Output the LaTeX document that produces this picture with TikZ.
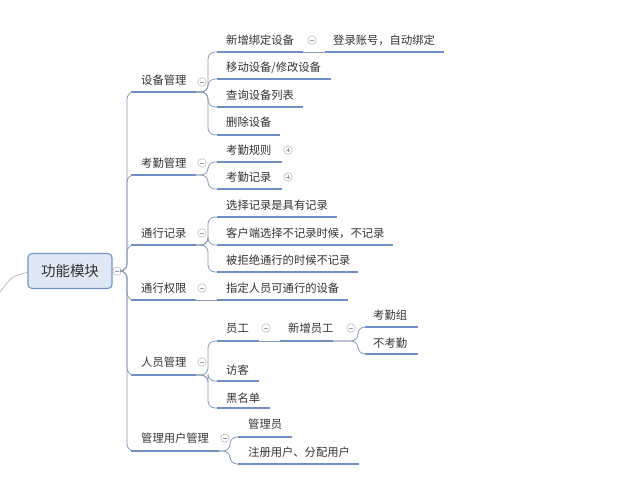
\documentclass[tikz,border=0pt]{standalone}
\usepackage{fontspec}
\setmainfont{Noto Sans CJK SC}
\definecolor{ul}{HTML}{6F8FC6}
\definecolor{cn}{HTML}{8A9BB8}
\definecolor{tx}{HTML}{333333}
\definecolor{rootfill}{HTML}{DFE9F6}
\definecolor{rootdraw}{HTML}{7393C6}
\begin{document}
\begin{tikzpicture}[x=1pt,y=-1pt,
  lbl/.style={anchor=west,inner sep=0pt,text=tx,font=\fontsize{11.3}{13}\selectfont},
  uline/.style={draw=ul,line width=2.4pt},
  conn/.style={draw=cn,line width=0.8pt,rounded corners=7pt},
  tog/.style={circle,draw=gray!60,line width=0.5pt,minimum size=8.5pt,inner sep=0pt,fill=white},
  togm/.style={tog,path picture={\draw[gray!80,line width=0.5pt] ([xshift=-2.2pt]path picture bounding box.center)--([xshift=2.2pt]path picture bounding box.center);}},
  togp/.style={tog,path picture={\draw[gray!80,line width=0.5pt] ([xshift=-2.2pt]path picture bounding box.center)--([xshift=2.2pt]path picture bounding box.center) ([yshift=-2.2pt]path picture bounding box.center)--([yshift=2.2pt]path picture bounding box.center);}}
]
\useasboundingbox[fill=white] (0,0) rectangle (640,488);

% incoming curve
\coordinate (inL) at (0,292);
\draw[gray!55,line width=0.8pt] (inL) .. controls (12,276) .. (29,272);

% root
\node[draw=rootdraw,fill=rootfill,line width=1.1pt,rounded corners=4pt,minimum width=84pt,minimum height=35pt,inner sep=0pt,text=tx,font=\fontsize{14.5}{16}\selectfont] (root) at (70,271) {功能模块};
\node[togm] (troot) at (117,271) {};

% level 1 nodes
\foreach \n/\t/\y in {a/设备管理/80, b/考勤管理/163, c/通行记录/233, d/通行权限/288, e/人员管理/362, f/管理用户管理/438}{
  \node[lbl] (\n) at (141,\y) {\t};
}
\coordinate (a1) at (131,92); \coordinate (a2) at (196,92);
\coordinate (b1) at (131,175); \coordinate (b2) at (196,175);
\coordinate (c1) at (131,245); \coordinate (c2) at (196,245);
\coordinate (d1) at (131,300); \coordinate (d2) at (196,300);
\coordinate (e1) at (131,375); \coordinate (e2) at (196,375);
\coordinate (f1) at (131,451); \coordinate (f2) at (219,451);
\coordinate (trunk) at (127,271);
\foreach \p in {a,b,c,d,e,f}{
  \draw[conn] (troot.east) -- (trunk) |- (\p1);
  \draw[uline] (\p1) -- (\p2);
}
\node[togm] at (202,82) {};
\node[togm] at (202,163) {};
\node[togm] at (202,233) {};
\node[togm] at (202,288) {};
\node[togm] at (202,362) {};
\node[togm] at (225,438) {};

% level 2 under a
\node[lbl] (a_1) at (226,40) {新增绑定设备};
\node[lbl] (a_2) at (226,68) {移动设备/修改设备};
\node[lbl] (a_3) at (226,95) {查询设备列表};
\node[lbl] (a_4) at (226,122) {删除设备};
\coordinate (ja) at (208,92);
\foreach \ys/\xe in {52/303, 79/331, 107/303, 135/280}{
  \draw[conn] (a2) -- (ja) |- (217,\ys);
  \draw[uline] (217,\ys) -- (\xe,\ys);
}
\node[togm] at (312,40) {};
\node[lbl] (a_1_1) at (333,40) {登录账号，自动绑定};
\draw[conn] (303,52) -- (325,52);
\draw[uline] (325,52) -- (444,52);

% level 2 under b
\node[lbl] (b_1) at (226,150) {考勤规则};
\node[lbl] (b_2) at (226,177) {考勤记录};
\coordinate (jb) at (208,175);
\foreach \ys/\xe in {162/282, 189/282}{
  \draw[conn] (b2) -- (jb) |- (217,\ys);
  \draw[uline] (217,\ys) -- (\xe,\ys);
}
\node[togp] at (288,150) {};
\node[togp] at (288,177) {};

% level 2 under c
\node[lbl] (c_1) at (226,205) {选择记录是具有记录};
\node[lbl] (c_2) at (226,233) {客户端选择不记录时候，不记录};
\node[lbl] (c_3) at (226,260) {被拒绝通行的时候不记录};
\coordinate (jc) at (208,245);
\foreach \ys/\xe in {217/337, 245/393, 272/358}{
  \draw[conn] (c2) -- (jc) |- (217,\ys);
  \draw[uline] (217,\ys) -- (\xe,\ys);
}

% level 2 under d
\node[lbl] (d_1) at (226,288) {指定人员可通行的设备};
\draw[conn] (d2) -- (217,300);
\draw[uline] (217,300) -- (348,300);

% level 2 under e
\node[lbl] (e_1) at (226,328) {员工};
\node[lbl] (e_2) at (226,370) {访客};
\node[lbl] (e_3) at (226,398) {黑名单};
\coordinate (je) at (208,375);
\foreach \ys/\xe in {341/259, 381/259, 408/270}{
  \draw[conn] (e2) -- (je) |- (217,\ys);
  \draw[uline] (217,\ys) -- (\xe,\ys);
}
\node[togm] at (266,328) {};
\node[lbl] (e_1_1) at (288,328) {新增员工};
\draw[conn] (259,341) -- (280,341);
\draw[uline] (280,341) -- (333,341);
\node[togm] at (351,328) {};
\node[lbl] (e_1_1_1) at (373,315) {考勤组};
\node[lbl] (e_1_1_2) at (373,343) {不考勤};
\coordinate (je2) at (358,341);
\foreach \ys in {327,354}{
  \draw[conn] (333,341) -- (je2) |- (365,\ys);
  \draw[uline] (365,\ys) -- (418,\ys);
}

% level 2 under f
\node[lbl] (f_1) at (248,424) {管理员};
\node[lbl] (f_2) at (248,452) {注册用户、分配用户};
\coordinate (jf) at (230,451);
\foreach \ys/\xe in {437/292, 464/359}{
  \draw[conn] (f2) -- (jf) |- (238,\ys);
  \draw[uline] (238,\ys) -- (\xe,\ys);
}
\end{tikzpicture}
\end{document}
